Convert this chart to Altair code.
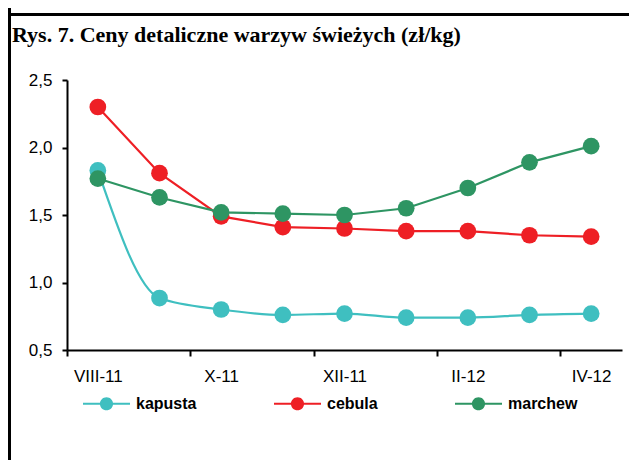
import altair as alt
import pandas as pd

months = ["VIII-11", "IX-11", "X-11", "XI-11", "XII-11", "I-12", "II-12", "III-12", "IV-12"]
series = ["kapusta", "cebula", "marchew"]
kapusta = [1.83, 0.885, 0.80, 0.76, 0.77, 0.74, 0.74, 0.76, 0.77]
cebula = [2.30, 1.81, 1.49, 1.41, 1.40, 1.38, 1.38, 1.35, 1.34]
marchew = [1.77, 1.63, 1.52, 1.51, 1.50, 1.55, 1.70, 1.89, 2.01]
colors = ["#3FBFC0", "#EE1F25", "#2E9563"]
title_text = "Rys. 7. Ceny detaliczne warzyw świeżych (zł/kg)"
y_ticks = [0.5, 1.0, 1.5, 2.0, 2.5]

rows = []
for name, vals in zip(series, [kapusta, cebula, marchew]):
    for i, (m, v) in enumerate(zip(months, vals)):
        rows.append({"series": name, "idx": i, "month": m, "value": v})
df = pd.DataFrame(rows)

# x axis: labels on every other month, tick marks between category pairs
x_values = []
for i in range(0, len(months), 2):
    x_values += [i - 0.5, i]
month_js = "[" + ",".join("'" + m + "'" for m in months) + "]"

x_enc = alt.X(
    "idx:Q",
    scale=alt.Scale(domain=[-0.5, len(months) - 0.5], nice=False, zero=False),
    axis=alt.Axis(
        values=x_values,
        labelExpr=f"datum.value % 2 == 0 ? {month_js}[datum.value] : ''",
        tickOpacity={"condition": {"test": "datum.value % 2 != 0", "value": 1}, "value": 0},
        title=None,
        grid=False,
        tickSize=6,
        tickWidth=2,
        tickColor="black",
        domainColor="black",
        domainWidth=2,
        labelPadding=12,
        labelFont="Liberation Sans",
        labelFontSize=17,
        labelColor="black",
        labelOverlap=False,
        labelFlush=False,
    ),
)
y_enc = alt.Y(
    "value:Q",
    scale=alt.Scale(domain=[0.5, 2.5], nice=False, zero=False),
    axis=alt.Axis(
        values=y_ticks,
        labelExpr="replace(format(datum.value, '.1f'), '.', ',')",
        title=None,
        grid=False,
        tickSize=5,
        tickWidth=2,
        tickColor="black",
        domainColor="black",
        domainWidth=2,
        labelPadding=10,
        labelFont="Liberation Sans",
        labelFontSize=17,
        labelColor="black",
    ),
)
color_scale = alt.Scale(domain=series, range=colors)

legend_symbol = (
    "M-1,-0.045L1,-0.045L1,0.045L-1,0.045Z "
    "M0.28,0A0.28,0.28,0,1,1,-0.28,0A0.28,0.28,0,1,1,0.28,0Z"
)
legend = alt.Legend(
    title=None,
    orient="none",
    legendX=16,
    legendY=300,
    direction="horizontal",
    columns=3,
    columnPadding=77,
    symbolType=legend_symbol,
    symbolSize=2209,
    symbolStrokeWidth=0,
    symbolFillColor="black",
    labelOffset=6,
    labelFont="Liberation Sans",
    labelFontSize=16,
    labelFontWeight="bold",
    labelColor="black",
    padding=0,
)
color_enc = alt.Color("series:N", scale=color_scale, legend=legend)

base = alt.Chart(df)

points = base.mark_circle(size=280, opacity=1).encode(x=x_enc, y=y_enc, color=color_enc)

kap_line = base.transform_filter("datum.series == 'kapusta'").mark_line(
    interpolate="monotone", strokeWidth=2.2
).encode(x=x_enc, y=y_enc, color=color_enc)

other_line = base.transform_filter("datum.series != 'kapusta'").mark_line(
    strokeWidth=2.2
).encode(x=x_enc, y=y_enc, color=color_enc)

one = pd.DataFrame({"k": [0]})
left_rule = alt.Chart(one).mark_rule(color="black", strokeWidth=3).encode(
    x=alt.value(-57.5), y=alt.value(-72), y2=alt.value(380)
)
top_rule = alt.Chart(one).mark_rule(color="black", strokeWidth=3).encode(
    x=alt.value(-59), x2=alt.value(562), y=alt.value(-65.5)
)
title = alt.Chart(one).mark_text(
    align="left", baseline="alphabetic", font="Liberation Serif",
    fontWeight="bold", fontSize=22, color="black"
).encode(x=alt.value(-55), y=alt.value(-38), text=alt.value(title_text))

chart = alt.layer(left_rule, top_rule, title, kap_line, other_line, points).properties(
    width=555,
    height=270,
    autosize=alt.AutoSizeParams(type="none"),
    padding={"left": 59, "top": 72, "right": 7, "bottom": 110},
    background="white",
).configure_view(stroke=None)

chart.save("out.html", embed_options={"renderer": "svg", "actions": False})
